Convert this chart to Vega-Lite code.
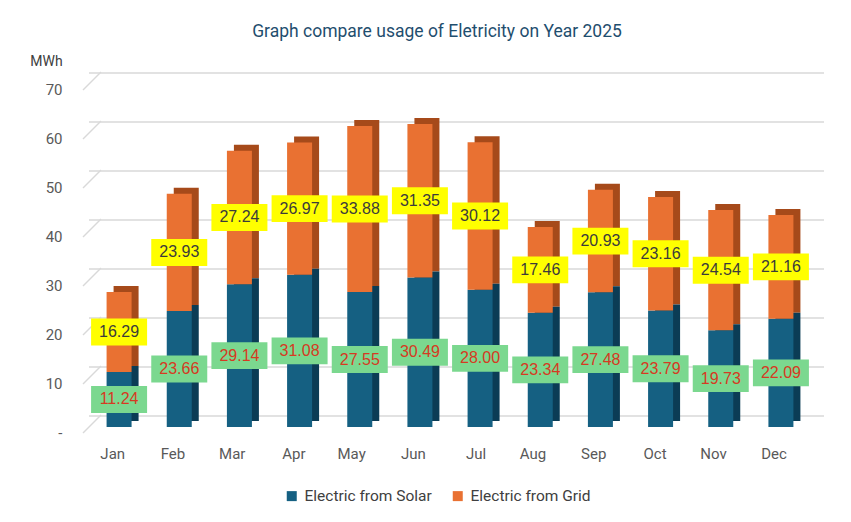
{
  "$schema": "https://vega.github.io/schema/vega-lite/v6.json",
  "autosize": {"type": "none"},
  "width": 722,
  "height": 343,
  "padding": {"left": 89, "top": 84, "right": 40, "bottom": 95},
  "background": "white",
  "config": {"view": {"stroke": null}, "font": "Roboto"},
  "title": {"text": "Graph compare usage of Eletricity on Year 2025", "anchor": "middle", "fontSize": 17.5, "fontWeight": "normal", "color": "#1F4E6E", "font": "Roboto", "offset": 14, "dx": -13},
  "datasets": {
    "usage": [
      {"month": "Jan", "type": "Electric from Solar", "value": 11.24},
      {"month": "Feb", "type": "Electric from Solar", "value": 23.66},
      {"month": "Mar", "type": "Electric from Solar", "value": 29.14},
      {"month": "Apr", "type": "Electric from Solar", "value": 31.08},
      {"month": "May", "type": "Electric from Solar", "value": 27.55},
      {"month": "Jun", "type": "Electric from Solar", "value": 30.49},
      {"month": "Jul", "type": "Electric from Solar", "value": 28.00},
      {"month": "Aug", "type": "Electric from Solar", "value": 23.34},
      {"month": "Sep", "type": "Electric from Solar", "value": 27.48},
      {"month": "Oct", "type": "Electric from Solar", "value": 23.79},
      {"month": "Nov", "type": "Electric from Solar", "value": 19.73},
      {"month": "Dec", "type": "Electric from Solar", "value": 22.09},
      {"month": "Jan", "type": "Electric from Grid", "value": 16.29},
      {"month": "Feb", "type": "Electric from Grid", "value": 23.93},
      {"month": "Mar", "type": "Electric from Grid", "value": 27.24},
      {"month": "Apr", "type": "Electric from Grid", "value": 26.97},
      {"month": "May", "type": "Electric from Grid", "value": 33.88},
      {"month": "Jun", "type": "Electric from Grid", "value": 31.35},
      {"month": "Jul", "type": "Electric from Grid", "value": 30.12},
      {"month": "Aug", "type": "Electric from Grid", "value": 17.46},
      {"month": "Sep", "type": "Electric from Grid", "value": 20.93},
      {"month": "Oct", "type": "Electric from Grid", "value": 23.16},
      {"month": "Nov", "type": "Electric from Grid", "value": 24.54},
      {"month": "Dec", "type": "Electric from Grid", "value": 21.16}
    ],
    "grid": [{"g": 0}, {"g": 10}, {"g": 20}, {"g": 30}, {"g": 40}, {"g": 50}, {"g": 60}, {"g": 70}]
  },
  "layer": [
    {
      "data": {"name": "grid"},
      "mark": {"type": "rule", "color": "#D9D9D9", "strokeWidth": 1.5, "xOffset": 13, "x2Offset": 16, "yOffset": -11},
      "encoding": {
        "y": {"field": "g", "type": "quantitative", "scale": {"domain": [0, 70]},
          "axis": {"values": [0, 10, 20, 30, 40, 50, 60, 70], "labelExpr": "datum.value == 0 ? '-' : datum.label", "domain": false, "ticks": false, "grid": false, "labelPadding": 27, "labelOffset": 5, "labelFontSize": 15, "labelColor": "#595959", "labelFont": "Roboto",
            "title": "MWh", "titleAngle": 0, "titleX": -43, "titleY": -23, "titleAlign": "center", "titleBaseline": "middle", "titleFontSize": 14, "titleFontWeight": "normal", "titleColor": "#404040", "titleFont": "Roboto"}}
      }
    },
    {
      "data": {"name": "grid"},
      "mark": {"type": "point", "shape": "M-1,1L1,-1", "size": 324, "filled": false, "stroke": "#D9D9D9", "strokeWidth": 1.5, "opacity": 1, "xOffset": -358, "yOffset": -3},
      "encoding": {
        "y": {"field": "g", "type": "quantitative"}
      }
    },
    {
      "data": {"name": "usage"},
      "transform": [
        {"stack": "value", "groupby": ["month"], "sort": [{"field": "type", "order": "descending"}], "as": ["v0", "v1"]},
        {"calculate": "(datum.v0 + datum.v1) / 2", "as": "mid"}
      ],
      "layer": [
        {
          "transform": [{"filter": "datum.type == 'Electric from Grid'"}],
          "mark": {"type": "bar", "width": 25, "xOffset": 7, "yOffset": -6, "y2Offset": -6, "fill": "#A64A1A"},
          "encoding": {
            "x": {"field": "month", "type": "nominal", "sort": null},
            "y": {"field": "v1", "type": "quantitative"},
            "y2": {"field": "v0"}
          }
        },
        {
          "transform": [{"filter": "datum.type == 'Electric from Solar'"}],
          "mark": {"type": "bar", "width": 25, "xOffset": 7, "yOffset": -6, "y2Offset": -6, "fill": "#0B3C55"},
          "encoding": {
            "x": {"field": "month", "type": "nominal", "sort": null},
            "y": {"field": "v1", "type": "quantitative"},
            "y2": {"field": "v0"}
          }
        },
        {
          "mark": {"type": "bar", "width": 25},
          "encoding": {
            "x": {"field": "month", "type": "nominal", "sort": null,
              "scale": {"paddingInner": 0.5, "paddingOuter": 0.25},
              "axis": {"title": null, "domain": false, "ticks": false, "labelAngle": 0, "labelPadding": 26, "labelOffset": 6, "labelFontSize": 15, "labelColor": "#595959", "labelFont": "Roboto"}},
            "y": {"field": "v1", "type": "quantitative"},
            "y2": {"field": "v0"},
            "color": {"field": "type", "type": "nominal",
              "scale": {"domain": ["Electric from Solar", "Electric from Grid"], "range": ["#156082", "#E97132"]},
              "legend": {"title": null, "orient": "none", "direction": "horizontal", "legendX": 195, "legendY": 404, "symbolType": "square", "symbolSize": 100, "labelFontSize": 15.5, "labelColor": "#404040", "labelFont": "Roboto", "columnPadding": 18, "labelOffset": 5}}
          }
        },
        {
          "mark": {"type": "point", "shape": "M-1,-0.48L1,-0.48L1,0.48L-1,0.48Z", "size": 3136, "filled": true, "opacity": 1, "strokeWidth": 0},
          "encoding": {
            "x": {"field": "month", "type": "nominal", "sort": null},
            "y": {"field": "mid", "type": "quantitative"},
            "fill": {"condition": {"test": "datum.type == 'Electric from Solar'", "value": "#7BD88F"}, "value": "#FFFF00"}
          }
        },
        {
          "mark": {"type": "text", "fontSize": 16, "font": "Liberation Sans", "baseline": "middle", "align": "center"},
          "encoding": {
            "x": {"field": "month", "type": "nominal", "sort": null},
            "y": {"field": "mid", "type": "quantitative"},
            "text": {"field": "value", "type": "quantitative", "format": ".2f"},
            "color": {"condition": {"test": "datum.type == 'Electric from Solar'", "value": "#D63A22"}, "value": "#3B3B3B"}
          }
        }
      ]
    }
  ]
}
